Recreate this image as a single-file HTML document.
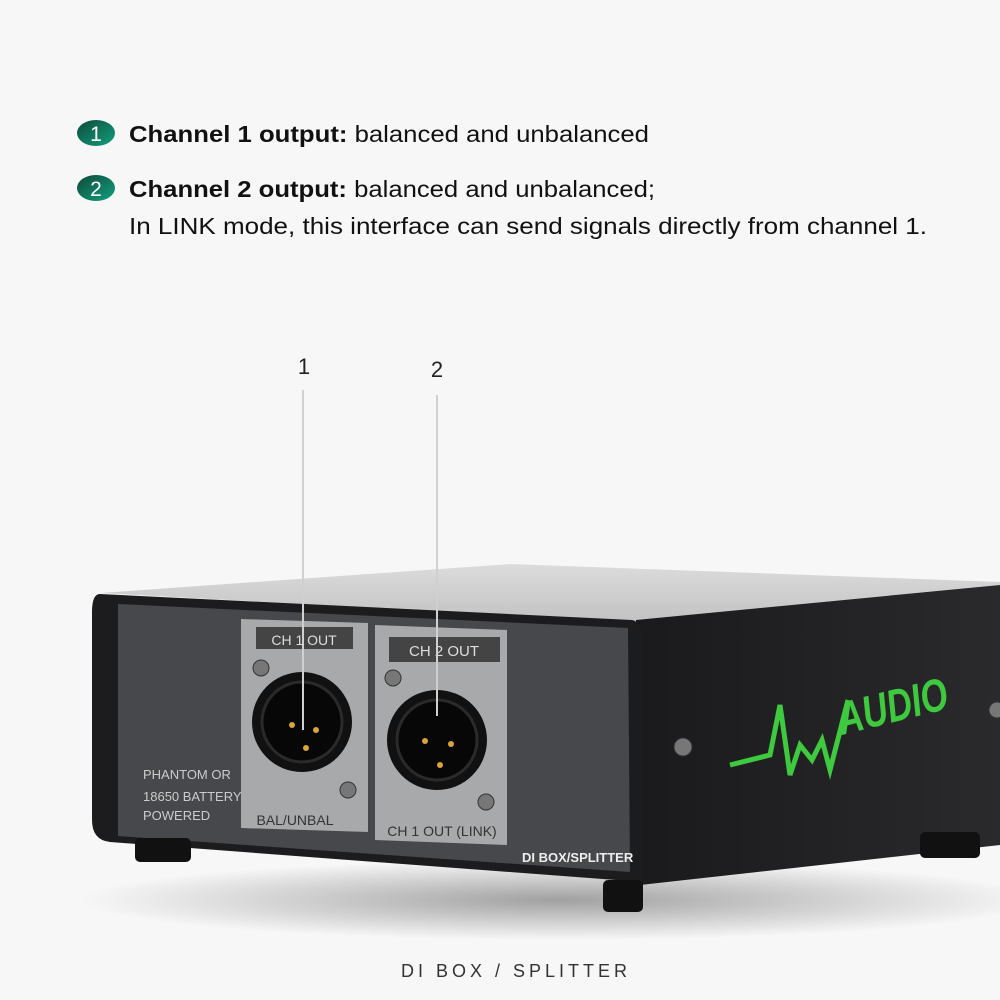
<!DOCTYPE html>
<html><head><meta charset="utf-8"><style>
html,body{margin:0;padding:0;background:#f7f7f7;}
.wrap{position:relative;width:1000px;height:1000px;overflow:hidden;font-family:"Liberation Sans",sans-serif;}
</style></head><body><div class="wrap">
<svg width="1000" height="1000" viewBox="0 0 1000 1000" xmlns="http://www.w3.org/2000/svg">
<defs>
<linearGradient id="bd" x1="0" y1="0" x2="1" y2="1"><stop offset="0" stop-color="#0f4a3a"/><stop offset="1" stop-color="#12a07e"/></linearGradient>
<linearGradient id="top" x1="0" y1="0" x2="0" y2="1"><stop offset="0" stop-color="#dcdcdc"/><stop offset="1" stop-color="#c2c2c2"/></linearGradient>
<linearGradient id="side" x1="0" y1="0" x2="1" y2="0"><stop offset="0" stop-color="#1a1a1c"/><stop offset="1" stop-color="#2a2a2c"/></linearGradient>
<radialGradient id="sh" cx="0.5" cy="0.5" r="0.5"><stop offset="0" stop-color="#000" stop-opacity="0.35"/><stop offset="1" stop-color="#000" stop-opacity="0"/></radialGradient>
</defs>
<rect width="1000" height="1000" fill="#f7f7f7"/>
<!-- header -->
<ellipse cx="96" cy="133" rx="19" ry="13" fill="url(#bd)"/>
<text x="96" y="141" font-size="21" fill="#fff" text-anchor="middle">1</text>
<ellipse cx="96" cy="188" rx="19" ry="13" fill="url(#bd)"/>
<text x="96" y="196" font-size="21" fill="#fff" text-anchor="middle">2</text>
<text x="129" y="142" font-size="23" fill="#111" textLength="520" lengthAdjust="spacingAndGlyphs"><tspan font-weight="bold">Channel 1 output:</tspan> balanced and unbalanced</text>
<text x="129" y="197" font-size="23" fill="#111" textLength="526" lengthAdjust="spacingAndGlyphs"><tspan font-weight="bold">Channel 2 output:</tspan>  balanced and unbalanced;</text>
<text x="129" y="234" font-size="23" fill="#111" textLength="798" lengthAdjust="spacingAndGlyphs">In LINK mode, this interface can send signals directly from channel 1.</text>
<!-- shadow -->
<ellipse cx="560" cy="900" rx="480" ry="40" fill="url(#sh)"/>
<!-- top -->
<polygon points="100,593 510,564 1000,582 1000,590 640,622" fill="url(#top)"/>
<!-- side -->
<polygon points="636,620 1000,585 1000,845 640,885" fill="url(#side)"/>
<!-- front bevel -->
<path d="M100,594 L632,620 Q642,622 642,640 L642,882 L110,842 Q92,840 92,820 L92,612 Q92,594 100,594Z" fill="#1c1c1e"/>
<path d="M118,604 L628,628 L630,872 L118,836Z" fill="#46484c"/>
<!-- feet -->
<rect x="135" y="838" width="56" height="24" rx="5" fill="#111"/>
<rect x="603" y="880" width="40" height="32" rx="5" fill="#111"/>
<rect x="920" y="832" width="60" height="26" rx="5" fill="#111"/>
<!-- panels -->
<polygon points="241,619 368,623 368,832 241,828" fill="#a8a9ab"/>
<polygon points="375,625 507,630 507,845 375,840" fill="#a8a9ab"/>
<rect x="256" y="627" width="97" height="22" fill="#444"/>
<rect x="389" y="637" width="111" height="25" fill="#444"/>
<text x="304" y="645" font-size="14" fill="#ddd" text-anchor="middle">CH 1 OUT</text>
<text x="444" y="656" font-size="15" fill="#ddd" text-anchor="middle">CH 2 OUT</text>
<circle cx="302" cy="722" r="50" fill="#111"/><circle cx="302" cy="722" r="40" fill="#070707" stroke="#2a2a2a" stroke-width="3"/>
<circle cx="437" cy="740" r="50" fill="#111"/><circle cx="437" cy="740" r="40" fill="#070707" stroke="#2a2a2a" stroke-width="3"/>
<g fill="#d9a53a"><circle cx="292" cy="725" r="3"/><circle cx="316" cy="730" r="3"/><circle cx="306" cy="748" r="3"/>
<circle cx="425" cy="741" r="3"/><circle cx="451" cy="744" r="3"/><circle cx="440" cy="765" r="3"/></g>
<g fill="#777" stroke="#333"><circle cx="261" cy="668" r="8"/><circle cx="348" cy="790" r="8"/><circle cx="393" cy="678" r="8"/><circle cx="486" cy="802" r="8"/><circle cx="683" cy="747" r="9"/><circle cx="997" cy="710" r="8"/></g>
<text x="295" y="825" font-size="14" fill="#333" text-anchor="middle">BAL/UNBAL</text>
<text x="442" y="836" font-size="14" fill="#333" text-anchor="middle">CH 1 OUT (LINK)</text>
<text x="143" y="779" font-size="13" fill="#ccc">PHANTOM OR</text>
<text x="143" y="801" font-size="13" fill="#ccc">18650 BATTERY</text>
<text x="143" y="820" font-size="13" fill="#ccc">POWERED</text>
<text x="522" y="862" font-size="13" font-weight="bold" fill="#eee">DI BOX/SPLITTER</text>
<!-- logo -->
<polyline points="730,765 770,755 780,705 790,775 800,745 812,760 822,740 830,770 848,700" fill="none" stroke="#3ec93e" stroke-width="5"/>
<text x="842" y="735" font-size="46" font-weight="bold" font-style="italic" fill="#3ec93e" textLength="112" lengthAdjust="spacingAndGlyphs" transform="rotate(-14 842 735)">AUDIO</text>
<!-- callouts -->
<line x1="303" y1="390" x2="303" y2="730" stroke="#d0d0d0" stroke-width="2"/>
<line x1="437" y1="395" x2="437" y2="716" stroke="#d0d0d0" stroke-width="2"/>
<text x="304" y="374" font-size="22" fill="#222" text-anchor="middle">1</text>
<text x="437" y="377" font-size="22" fill="#222" text-anchor="middle">2</text>
<text x="516" y="977" font-size="18" fill="#333" text-anchor="middle" letter-spacing="4">DI BOX / SPLITTER</text>
</svg>
</div></body></html>
